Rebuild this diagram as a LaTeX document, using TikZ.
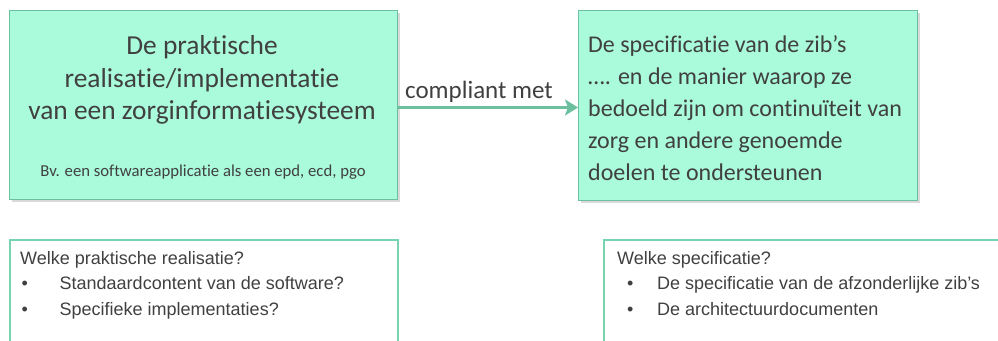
\documentclass[tikz,border=0pt]{standalone}
\usepackage{fontspec}
\setmainfont{Carlito}[Ligatures=CommonOff]
\newfontfamily\arialfont{Liberation Sans}
\usetikzlibrary{positioning,arrows,arrows.meta,shadows}
\definecolor{mintfill}{RGB}{170,250,220}
\definecolor{mintline}{RGB}{108,192,160}
\definecolor{noteline}{RGB}{120,212,176}
\definecolor{textgray}{RGB}{64,64,64}
\tikzset{
mainbox/.style={draw=mintline, fill=mintfill, line width=1pt, anchor=north west, inner sep=0pt,
  drop shadow={shadow xshift=2pt, shadow yshift=-2pt, opacity=0.3}},
notebox/.style={draw=noteline, line width=1.5pt, anchor=north west, inner sep=0pt},
bigtext/.style={text=textgray, font=\fontsize{27.4}{32.5}\selectfont, inner sep=0pt},
smalltext/.style={text=textgray, font=\fontsize{16.7}{20}\selectfont, inner sep=0pt},
listtext/.style={text=textgray, font=\arialfont\fontsize{18}{25.5}\selectfont, inner sep=0pt, align=left, anchor=north west},
compl/.style={draw=mintline, line width=3pt, -{Stealth[length=13pt,width=16pt,inset=3pt]}}
}
\newcommand{\bul}[1]{\makebox[#1][l]{\textbullet}}

\begin{document}
\begin{tikzpicture}[x=1pt, y=-1pt]
  \useasboundingbox (0,0) rectangle (998,340);
  \clip (0,0) rectangle (998,340);
  % upper boxes
  \node[mainbox, minimum width=388pt, minimum height=189pt] (impl) at (9,10) {};
  \node[mainbox, minimum width=339pt, minimum height=190pt] (spec) at (578,10) {};
  \node[bigtext, align=center] (impltext) at (202,80) {De praktische\\realisatie/implementatie\\van een zorginformatiesysteem};
  \node[smalltext] (implnote) at (203,172) {Bv. een softwareapplicatie als een epd, ecd, pgo};
  \node[bigtext, align=left, anchor=west, font=\fontsize{24}{32}\selectfont] (spectext) at (588,108) {De specificatie van de zib’s\\…. en de manier waarop ze\\bedoeld zijn om continuïteit van\\zorg en andere genoemde\\doelen te ondersteunen};
  \draw[compl] ([yshift=-2.5pt]impl.east) -- ([yshift=-2.5pt]impl.east -| spec.west)
    node[pos=0.45, above=3pt, text=textgray, font=\fontsize{25}{30}\selectfont, inner sep=0pt] (complabel) {compliant met};
  % lower boxes
  \node[notebox, minimum width=388pt, minimum height=130pt] (realq) at (9,239) {};
  \node[notebox, minimum width=420pt, minimum height=130pt] (specq) at (603,239) {};
  \node[listtext] (realtext) at (20,251) {Welke praktische realisatie?\\
    \hspace{1.5pt}\bul{38pt}Standaardcontent van de software?\\
    \hspace{1.5pt}\bul{38pt}Specifieke implementaties?};
  \node[listtext] (spectextq) at (617,251) {Welke specificatie?\\
    \hspace{10pt}\bul{30pt}De specificatie van de afzonderlijke zib’s\\
    \hspace{10pt}\bul{30pt}De architectuurdocumenten};
\end{tikzpicture}
\end{document}
